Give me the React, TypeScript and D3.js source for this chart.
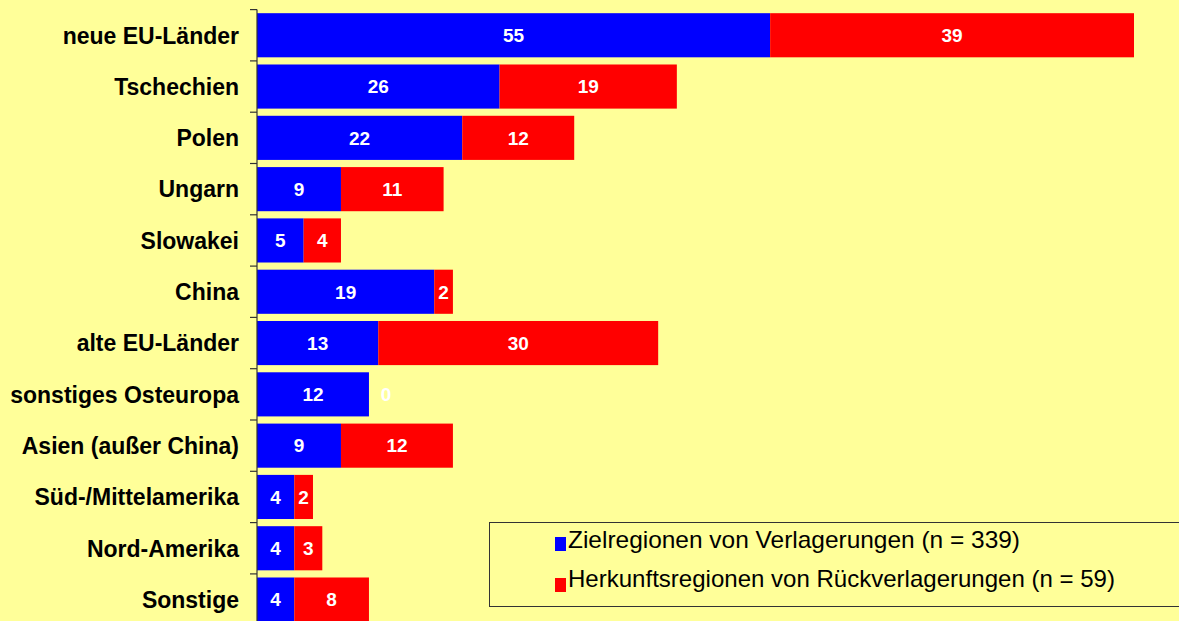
import React from 'react';
import * as d3 from 'd3';

const categories = [
    'neue EU-Länder',
    'Tschechien',
    'Polen',
    'Ungarn',
    'Slowakei',
    'China',
    'alte EU-Länder',
    'sonstiges Osteuropa',
    'Asien (außer China)',
    'Süd-/Mittelamerika',
    'Nord-Amerika',
    'Sonstige'
];
const zielValues = [55, 26, 22, 9, 5, 19, 13, 12, 9, 4, 4, 4];
const herkunftValues = [39, 19, 12, 11, 4, 2, 30, 0, 12, 2, 3, 8];
const seriesNames = [
    'Zielregionen von Verlagerungen (n = 339)',
    'Herkunftsregionen von Rückverlagerungen (n = 59)'
];
const seriesColors = ['#0000FF', '#FF0000'];

const width = 1179;
const height = 621;
const FONT = 'Arial, "Liberation Sans", sans-serif';

function App() {
    const x = d3.scaleLinear().domain([0, 94]).range([257, 1134]);
    const y = d3
        .scaleBand()
        .domain(categories)
        .range([9.6, 9.6 + 12 * 51.3])
        .paddingInner(0.14)
        .paddingOuter(0.07);

    const rows = categories.map((name, i) => ({
        name,
        segs: [
            { v: zielValues[i], x0: 0, x1: zielValues[i], c: seriesColors[0] },
            {
                v: herkunftValues[i],
                x0: zielValues[i],
                x1: zielValues[i] + herkunftValues[i],
                c: seriesColors[1]
            }
        ]
    }));

    const step = y.step();
    const ticks = d3.range(categories.length + 1).map((i) => 9.6 + i * step);

    return (
        <div style={{ position: 'fixed', left: 0, top: 0 }}>
            <svg width={width} height={height} style={{ display: 'block' }}>
                <rect width={width} height={height} fill="#FFFF99" />
                {rows.map((r) => {
                    const y0 = y(r.name)!;
                    const bh = y.bandwidth();
                    return (
                        <g key={r.name}>
                            {r.segs.map((s, j) => (
                                <rect
                                    key={j}
                                    x={x(s.x0)}
                                    y={y0}
                                    width={x(s.x1) - x(s.x0)}
                                    height={bh}
                                    fill={s.c}
                                />
                            ))}
                            {r.segs.map((s, j) => (
                                <text
                                    key={'t' + j}
                                    x={s.v === 0 ? x(s.x1) + 17 : (x(s.x0) + x(s.x1)) / 2}
                                    y={y0 + bh / 2}
                                    dy="0.36em"
                                    textAnchor="middle"
                                    fill="#fff"
                                    fontFamily={FONT}
                                    fontWeight="bold"
                                    fontSize={19}
                                >
                                    {s.v}
                                </text>
                            ))}
                            <text
                                x={239}
                                y={y0 + bh / 2}
                                dy="0.36em"
                                textAnchor="end"
                                fill="#000"
                                fontFamily={FONT}
                                fontWeight="bold"
                                fontSize={23}
                            >
                                {r.name}
                            </text>
                        </g>
                    );
                })}
                <line x1={257} x2={257} y1={9.6} y2={height} stroke="#333" strokeWidth={1.2} />
                {ticks.map((t, i) => (
                    <line key={i} x1={250} x2={257} y1={t} y2={t} stroke="#333" strokeWidth={1.2} />
                ))}
                <g>
                    <rect x={489.5} y={522.5} width={720} height={84} fill="#FFFF99" stroke="#333" strokeWidth={1} />
                    {seriesNames.map((n, i) => (
                        <g key={n}>
                            <rect x={555} y={537 + i * 41} width={11} height={14} fill={seriesColors[i]} />
                            <text
                                x={568}
                                y={548 + i * 39}
                                fill="#000"
                                fontFamily={FONT}
                                fontSize={24}
                                textLength={i === 0 ? 452 : 547}
                                lengthAdjust="spacingAndGlyphs"
                            >
                                {n}
                            </text>
                        </g>
                    ))}
                </g>
            </svg>
        </div>
    );
}

export default App;
